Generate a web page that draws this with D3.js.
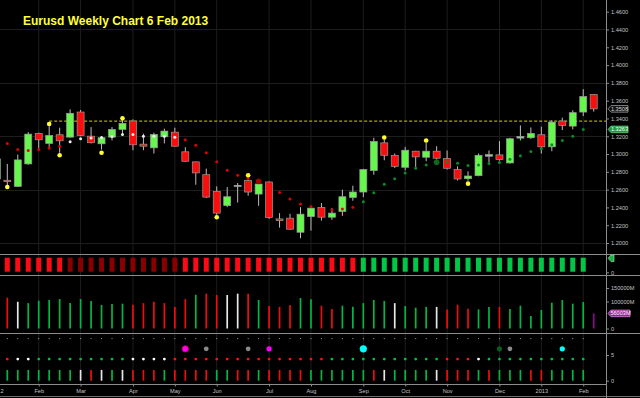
<!DOCTYPE html>
<html>
<head>
<meta charset="utf-8">
<script src="https://cdn.jsdelivr.net/npm/d3@7"></script>
<style>
  html, body { margin: 0; padding: 0; background: #000; }
  svg { display: block; }
</style>
</head>
<body>
<script>
// weekly bars, dated by the Friday that closes each week (first one is cut off on the left)
var weeks = d3.timeFriday.range(new Date(2012, 0, 6), new Date(2013, 1, 9));

// OHLC, one entry per week
var open  = [1.2720,1.2705,1.2636,1.2889,1.3232,1.3119,1.3217,1.3190,1.3472,1.3201,1.3115,1.3190,1.3277,1.3371,1.3111,1.3070,1.3194,1.3246,1.3025,1.2912,1.2768,1.2580,1.2421,1.2644,1.2701,1.2550,1.2686,1.2271,1.2279,1.2121,1.2297,1.2399,1.2290,1.2354,1.2512,1.2573,1.2814,1.3126,1.2983,1.2851,1.3032,1.2964,1.3032,1.2949,1.2825,1.2723,1.2757,1.2975,1.2991,1.2900,1.3179,1.3183,1.3217,1.3081,1.3371,1.3314,1.3472,1.3669];
var high  = [1.2990,1.2889,1.2994,1.3246,1.3240,1.3314,1.3296,1.3503,1.3495,1.3303,1.3190,1.3303,1.3380,1.3390,1.3228,1.3240,1.3285,1.3296,1.3077,1.2915,1.2836,1.2636,1.2629,1.2674,1.2740,1.2712,1.2693,1.2336,1.2328,1.2403,1.2410,1.2449,1.2392,1.2599,1.2644,1.2833,1.3183,1.3164,1.3006,1.3081,1.3035,1.3126,1.3088,1.3040,1.2862,1.2806,1.3006,1.3040,1.3145,1.3183,1.3322,1.3299,1.3307,1.3379,1.3409,1.3492,1.3729,1.3672];
var low   = [1.2690,1.2644,1.2630,1.2880,1.3051,1.3051,1.3014,1.3185,1.3200,1.3119,1.3051,1.3153,1.3209,1.3043,1.3043,1.3006,1.3119,1.3085,1.2915,1.2655,1.2505,1.2316,1.2403,1.2455,1.2531,1.2418,1.2271,1.2173,1.2150,1.2053,1.2139,1.2252,1.2260,1.2305,1.2475,1.2516,1.2768,1.2930,1.2844,1.2817,1.2844,1.2919,1.2938,1.2825,1.2704,1.2701,1.2750,1.2907,1.2925,1.2893,1.3153,1.3170,1.3006,1.3032,1.3269,1.3277,1.3427,1.3477];
var close = [1.2945,1.2690,1.2934,1.3224,1.3160,1.3209,1.3149,1.3458,1.3209,1.3127,1.3183,1.3277,1.3345,1.3104,1.3088,1.3220,1.3258,1.3088,1.2919,1.2788,1.2516,1.2336,1.2520,1.2648,1.2573,1.2663,1.2288,1.2252,1.2155,1.2324,1.2392,1.2290,1.2336,1.2520,1.2573,1.2825,1.3141,1.2986,1.2862,1.3043,1.2968,1.3032,1.2953,1.2840,1.2720,1.2753,1.2986,1.2994,1.2938,1.3172,1.3198,1.3232,1.3081,1.3359,1.3322,1.3465,1.3646,1.3508];

// parabolic SAR from the second week on (null = hidden), and its state R/W/G
var sarValues = [1.3119,1.3051,1.3040,1.3051,1.3070,1.3088,1.3138,1.3172,1.3179,1.3186,1.3198,1.3220,1.3220,1.3201,1.3201,1.3201,1.3190,1.3160,1.3100,1.3014,1.2912,1.2817,1.2761,1.2725,1.2693,null,1.2568,1.2494,1.2437,1.2410,null,1.2373,1.2381,1.2403,1.2463,1.2565,1.2659,1.2723,1.2788,1.2840,1.2878,1.2907,1.2912,1.2896,1.2870,1.2878,1.2893,1.2904,1.2941,1.2980,1.3028,1.3059,1.3104,1.3153,1.3201,1.3277];
var sarState = "RRRRRRWWWWWWWWWWWRRRRRRRRRRRRRRRRRGGGGGGGGGGGGGGGGGGGGGG".split("");
var sarFlips = [24, 41];

// yellow signal dots
var signalBars   = [0, 4, 5, 9, 11, 20, 23, 36, 40, 44];
var signalPrices = [1.2629, 1.3337, 1.2986, 1.3014, 1.3401, 1.2290, 1.2761, 1.3186, 1.3153, 1.2667];
var resistance = 1.3370;

// volume (millions), from the second week on
var volumes = [114000,99000,94000,103000,105500,109000,94000,109000,102000,87000,91000,92000,88000,94000,99000,94000,80000,109000,125000,129000,124000,124000,129000,129000,105500,83000,80000,87000,113000,108000,84500,72000,84500,81000,94000,105500,102000,94000,83000,77000,80000,80000,70000,88000,73000,71000,80000,80000,72000,84500,46000,68500,95500,105500,92000,98000,56003];
var volumeColors = "RWGGGGGGGGGGRRRRRRGRRWWRGRRRGGRRGGGGGWGGGWRRRGGRGGGGGGGGP".split("");

// lower indicator panel
var dotColors = "RWWGGGGGGGGGWWWWRRRRRRRRRRRRRRRGGGGGGGGGGGRRRWGGGGGGGGGG".split("");
var stickColors = "GGGGGGGWRWGWRRRGRRRRGGRRGRRRRGGGGGGRWGGGGWRRRGRGGGRRGGGG".split("");
var eventBars   = [17, 19, 23, 25, 34, 47, 48, 53];
var eventColors = ["#ff00ff", "#8a8a8a", "#8a8a8a", "#ff00ff", "#00ffff", "#0a5c1c", "#8a8a8a", "#00ffff"];
var eventSizes  = [3.2, 2.4, 2.4, 2.6, 3.6, 2.6, 2.4, 2.6];

var priceTicks = [1.20,1.22,1.24,1.26,1.28,1.30,1.32,1.34,1.36,1.38,1.40,1.42,1.44,1.46];
var priceGrid = [1.20, 1.26, 1.32, 1.38, 1.44];
var volumeTicks = [0, 100000, 150000];   // the 50000M tick sits under the volume badge
var indicatorTicks = [0, 5];

var lastClose = "1.3508", lastSar = "1.3263", lastVolume = "56003M";
var title = "Eurusd Weekly Chart 6 Feb 2013";

var W = 640, H = 398, axisX = 606.5;
var font = "'Liberation Sans', Arial, sans-serif";
var colors = {
    R: "#f20d0d", G: "#00b843", W: "#e8e8e8", P: "#8c0a8c"
};

var svg = d3.select("body").append("svg")
    .attr("width", W)
    .attr("height", H)
    .style("background", "#000");

var x = d3.scaleTime()
    .domain([weeks[1], weeks[57]])
    .range([7.3, 593.7]);
var y = d3.scaleLinear().domain([1.20, 1.46]).range([243, 11.7]);
var yVol = d3.scaleLinear().domain([0, 150000]).range([328.5, 288]);
var yInd = d3.scaleLinear().domain([0, 5]).range([380.7, 355]);

var monthStarts = weeks.filter(function(d, i) {
    return i === 0 || d.getMonth() !== weeks[i - 1].getMonth();
});
var fmtMonth = function(d) {
    return d.getMonth() === 0 ? d3.timeFormat("%Y")(d) : d3.timeFormat("%b")(d);
};

// grid
svg.append("g").selectAll("line").data(monthStarts).join("line")
    .attr("x1", function(d) { return x(d); })
    .attr("x2", function(d) { return x(d); })
    .attr("y1", 0).attr("y2", 384)
    .attr("stroke", "#1d1d1d");
svg.append("g").selectAll("line").data(priceGrid).join("line")
    .attr("x1", 0).attr("x2", axisX)
    .attr("y1", function(d) { return Math.round(y(d)) + 0.5; })
    .attr("y2", function(d) { return Math.round(y(d)) + 0.5; })
    .attr("stroke", "#1d1d1d");

svg.append("defs").append("clipPath").attr("id", "plotClip")
    .append("rect").attr("x", 0).attr("y", 0).attr("width", axisX).attr("height", 254);
var plot = svg.append("g").attr("clip-path", "url(#plotClip)");

// resistance line from the first touch
plot.append("line")
    .attr("x1", x(weeks[signalBars[1] + 1])).attr("x2", axisX)
    .attr("y1", y(resistance)).attr("y2", y(resistance))
    .attr("stroke", "#d4d400")
    .attr("stroke-width", 1)
    .attr("stroke-dasharray", "3,2");

// candles
var bars = plot.selectAll("g.candle").data(d3.range(weeks.length)).join("g").attr("class", "candle");
bars.append("line")
    .attr("x1", function(i) { return x(weeks[i]); })
    .attr("x2", function(i) { return x(weeks[i]); })
    .attr("y1", function(i) { return y(high[i]); })
    .attr("y2", function(i) { return y(low[i]); })
    .attr("stroke", "#bdbdbd")
    .attr("stroke-width", 1);
bars.append("rect")
    .attr("x", function(i) { return x(weeks[i]) - 3.5; })
    .attr("width", 7)
    .attr("y", function(i) { return y(Math.max(open[i], close[i])); })
    .attr("height", function(i) { return Math.max(1, Math.abs(y(open[i]) - y(close[i]))); })
    .attr("fill", function(i) {
        if (Math.abs(close[i] - open[i]) < 0.0005) return "#e6e6e6";
        return close[i] >= open[i] ? "#66f74d" : "#fa0d0d";
    })
    .attr("stroke", "#9a9a9a")
    .attr("stroke-width", 0.7);

// SAR dots
var sar = d3.range(sarValues.length).filter(function(i) { return sarValues[i] !== null; });
plot.append("g").selectAll("circle").data(sar).join("circle")
    .attr("cx", function(i) { return x(weeks[i + 1]); })
    .attr("cy", function(i) { return y(sarValues[i]); })
    .attr("r", function(i) { return sarFlips.indexOf(i) >= 0 ? 2.8 : 1.5; })
    .attr("fill", function(i) {
        var s = sarState[i];
        if (sarFlips.indexOf(i) >= 0) return s === "G" ? "#0a6a22" : "#a00000";
        return s === "R" ? "#e00000" : s === "W" ? "#eeeeee" : "#0b8a2a";
    });

// yellow signals
plot.append("g").selectAll("circle").data(signalBars).join("circle")
    .attr("cx", function(i) { return x(weeks[i + 1]); })
    .attr("cy", function(i, k) { return y(signalPrices[k]); })
    .attr("r", 2.3)
    .attr("fill", "#ffff33");

// title
svg.append("text")
    .attr("x", 23).attr("y", 24.5)
    .attr("font-family", font)
    .attr("font-weight", "bold")
    .attr("font-size", "12px")
    .attr("fill", "#ffff3a")
    .text(title);

// trend row
svg.append("g").selectAll("rect").data(sarState).join("rect")
    .attr("x", function(s, i) { return x(weeks[i + 1]) - 2.5; })
    .attr("y", 257.7).attr("width", 5).attr("height", 14)
    .attr("fill", function(s) { return s === "R" ? "#ff0a14" : s === "W" ? "#8a0000" : "#00c846"; });

// volume
svg.append("g").selectAll("line").data(volumes).join("line")
    .attr("x1", function(v, i) { return x(weeks[i + 1]); })
    .attr("x2", function(v, i) { return x(weeks[i + 1]); })
    .attr("y1", yVol(0))
    .attr("y2", function(v) { return yVol(v); })
    .attr("stroke", function(v, i) { return colors[volumeColors[i]]; })
    .attr("stroke-width", 1.7);

// lower indicator panel
var ind = svg.append("g");
ind.selectAll("circle.tiny").data(dotColors).join("circle").attr("class", "tiny")
    .attr("cx", function(c, i) { return x(weeks[i + 1]); })
    .attr("cy", yInd(8.2)).attr("r", 0.6).attr("fill", "#a0a0a0");
ind.selectAll("circle.event").data(eventBars).join("circle").attr("class", "event")
    .attr("cx", function(i) { return x(weeks[i + 1]); })
    .attr("cy", yInd(6.2))
    .attr("r", function(i, k) { return eventSizes[k]; })
    .attr("fill", function(i, k) { return eventColors[k]; })
    .attr("stroke", function(i, k) { return k === 0 ? "#d00030" : "none"; })
    .attr("stroke-width", 0.8);
ind.selectAll("circle.dot").data(dotColors).join("circle").attr("class", "dot")
    .attr("cx", function(c, i) { return x(weeks[i + 1]); })
    .attr("cy", yInd(4.2)).attr("r", 1.4)
    .attr("fill", function(c) { return c === "R" ? "#ff1111" : c === "W" ? "#ffffff" : "#00c040"; });
ind.selectAll("line").data(stickColors).join("line")
    .attr("x1", function(c, i) { return x(weeks[i + 1]); })
    .attr("x2", function(c, i) { return x(weeks[i + 1]); })
    .attr("y1", yInd(0)).attr("y2", yInd(2.1))
    .attr("stroke", function(c) { return colors[c]; })
    .attr("stroke-width", 1.7);

// separators and frame
var seps = [254.5, 275.5, 333.5];
svg.append("g").selectAll("line").data(seps).join("line")
    .attr("x1", 0).attr("x2", W)
    .attr("y1", function(d) { return d; }).attr("y2", function(d) { return d; })
    .attr("stroke", "#8c8c8c");
svg.append("line").attr("x1", 0).attr("x2", axisX).attr("y1", 384.5).attr("y2", 384.5).attr("stroke", "#8c8c8c");
svg.append("line").attr("x1", 0).attr("x2", W).attr("y1", 396.5).attr("y2", 396.5).attr("stroke", "#6e6e6e");
svg.append("line").attr("x1", axisX).attr("x2", axisX).attr("y1", 0).attr("y2", 398).attr("stroke", "#8c8c8c");

function styleAxis(g) {
    g.select(".domain").remove();
    g.selectAll(".tick line").attr("stroke", "#8c8c8c");
    g.selectAll(".tick text")
        .attr("fill", "#c4c4c4")
        .attr("font-family", font)
        .attr("font-size", "5.6px");
}

svg.append("g").attr("transform", "translate(" + axisX + ",0)")
    .call(d3.axisRight(y).tickValues(priceTicks).tickFormat(d3.format(".4f")).tickSize(2.5).tickPadding(2))
    .call(styleAxis);
svg.append("g").attr("transform", "translate(" + axisX + ",0)")
    .call(d3.axisRight(yVol).tickValues(volumeTicks).tickFormat(function(d) { return d === 0 ? "0" : d + "M"; }).tickSize(2.5).tickPadding(2))
    .call(styleAxis);
svg.append("g").attr("transform", "translate(" + axisX + ",0)")
    .call(d3.axisRight(yInd).tickValues(indicatorTicks).tickFormat(d3.format("d")).tickSize(2.5).tickPadding(2))
    .call(styleAxis);
// trend row zero mark
svg.append("g").attr("transform", "translate(" + axisX + ",272.3)")
    .call(d3.axisRight(d3.scaleLinear().domain([0, 1]).range([0, -14])).tickValues([0]).tickFormat(d3.format("d")).tickSize(2.5).tickPadding(2))
    .call(styleAxis);

var xAxis = svg.append("g").attr("transform", "translate(0,384.5)")
    .call(d3.axisBottom(x).tickValues(monthStarts).tickFormat(fmtMonth).tickSize(2).tickPadding(3))
    .call(styleAxis);

// value badges on the right axis
function badge(yPos, w, label, fill, stroke, textFill) {
    var h = 3.3, tip = axisX + 1.5;
    var g = svg.append("g");
    g.append("path")
        .attr("d", "M" + tip + "," + yPos + "L" + (tip + 3) + "," + (yPos - h) + "H" + (tip + w) +
            "V" + (yPos + h) + "H" + (tip + 3) + "Z")
        .attr("fill", fill)
        .attr("stroke", stroke)
        .attr("stroke-width", 0.7);
    if (label) {
        g.append("text")
            .attr("x", tip + 3 + (w - 3) / 2).attr("y", yPos)
            .attr("dy", "0.35em")
            .attr("text-anchor", "middle")
            .attr("font-family", font)
            .attr("font-size", "5.6px")
            .attr("fill", textFill)
            .text(label);
    }
}
badge(y(+lastClose), 20, lastClose, "#111", "#b0b0b0", "#d8d8d8");
badge(y(sarValues[sarValues.length - 1]), 20, lastSar, "#1e9a3c", "#7fd08f", "#ffffff");
badge(yVol(volumes[volumes.length - 1]), 22, lastVolume, "#9a1f9a", "#d9a0d9", "#ffffff");
badge(258.3, 6, "", "#1fb04a", "#8fe0a0", "#fff");
</script>
</body>
</html>
